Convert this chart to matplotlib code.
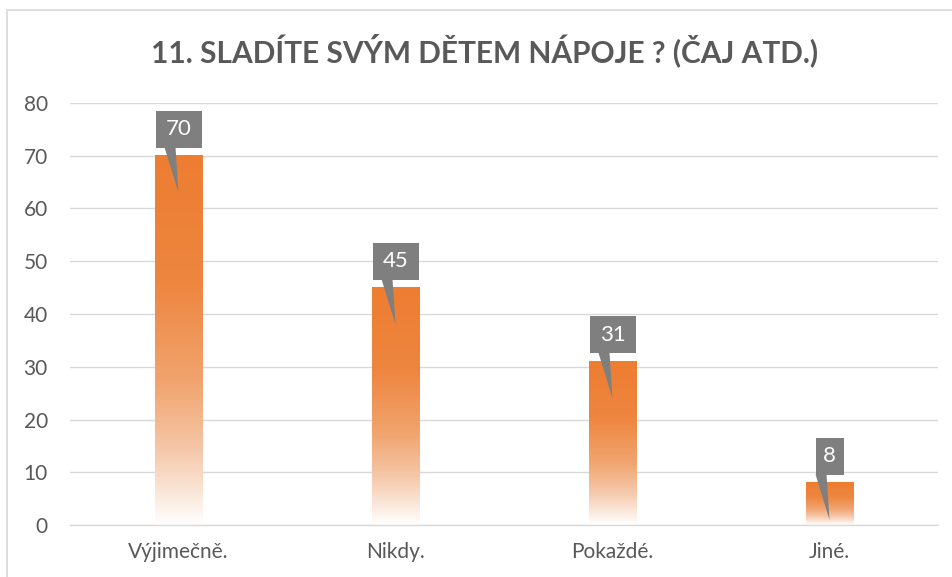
import matplotlib.pyplot as plt
import numpy as np
from matplotlib.patches import Rectangle, Polygon
from matplotlib.colors import LinearSegmentedColormap

plt.rcParams['font.family'] = ['Lato', 'DejaVu Sans']

categories = ['Výjimečně.', 'Nikdy.', 'Pokaždé.', 'Jiné.']
values = [70, 45, 31, 8]
title = '11. SLADÍTE SVÝM DĚTEM NÁPOJE ? (ČAJ ATD.)'

W, H = 952, 577
fig = plt.figure(figsize=(W / 100, H / 100), dpi=100)
ax = fig.add_axes([70 / W, 1 - 525 / H, (938 - 70) / W, (525 - 103) / H])

# chart border (cut off on right/bottom like the original)
fig.patches.append(Rectangle((7 / W, -0.1), 1.2, 1.1 - 10 / H, transform=fig.transFigure,
                             fill=False, edgecolor='#d9d9d9', linewidth=1.2))

# vertical gradient, top orange -> bottom white
stops = [(0.0, (237, 125, 49)), (0.35, (238, 134, 64)), (0.62, (241, 165, 112)),
         (0.8, (245, 200, 170)), (0.92, (250, 233, 220)), (1.0, (255, 255, 255))]
cmap = LinearSegmentedColormap.from_list('grad', [(p, np.array(c) / 255) for p, c in stops])
grad = np.linspace(0, 1, 256).reshape(-1, 1)

x = np.arange(len(categories))
bw = 0.22
px_y = 422 / 80    # pixels per data unit (y)
px_x = 217.0       # pixels per category (x)

for xi, v in zip(x, values):
    ax.imshow(grad, cmap=cmap, extent=(xi - bw / 2, xi + bw / 2, 0, v),
              aspect='auto', origin='upper', zorder=2, interpolation='bicubic')

# callouts
for xi, v in zip(x, values):
    s = str(v)
    bwid = (10 + 18 * len(s)) / px_x
    bh = 37 / px_y
    b0 = v + 8 / px_y
    ax.add_patch(Rectangle((xi - bwid / 2, b0), bwid, bh, facecolor='#7f7f7f',
                           edgecolor='none', zorder=4))
    tip = (xi, v - 37 / px_y)
    ax.add_patch(Polygon([(xi - 14 / px_x, b0 + 0.1), (xi - 3 / px_x, b0 + 0.1), tip],
                         closed=True, facecolor='#7f7f7f', edgecolor='none', zorder=4))
    ax.text(xi, b0 + bh / 2, s, ha='center', va='center', color='white',
            fontsize=16, zorder=5)

ax.set_xlim(-0.5, len(categories) - 0.5)
ax.set_ylim(0, 80)
ax.set_yticks(range(0, 81, 10))
ax.set_xticks(x)
ax.set_xticklabels(categories)
ax.tick_params(axis='both', length=0, labelsize=15, colors='#595959')
ax.tick_params(axis='y', pad=16)
ax.tick_params(axis='x', pad=12)
ax.grid(axis='y', color='#d9d9d9', linewidth=1.0, zorder=0)
ax.set_axisbelow(True)
for sp in ['top', 'right', 'left']:
    ax.spines[sp].set_visible(False)
ax.spines['bottom'].set_color('#d9d9d9')
ax.spines['bottom'].set_linewidth(1.0)

fig.text(485 / W, 1 - 50 / H, title, ha='center', va='center', fontsize=21.5,
         fontweight='bold', color='#595959')

fig.savefig('out.png', dpi=100)
